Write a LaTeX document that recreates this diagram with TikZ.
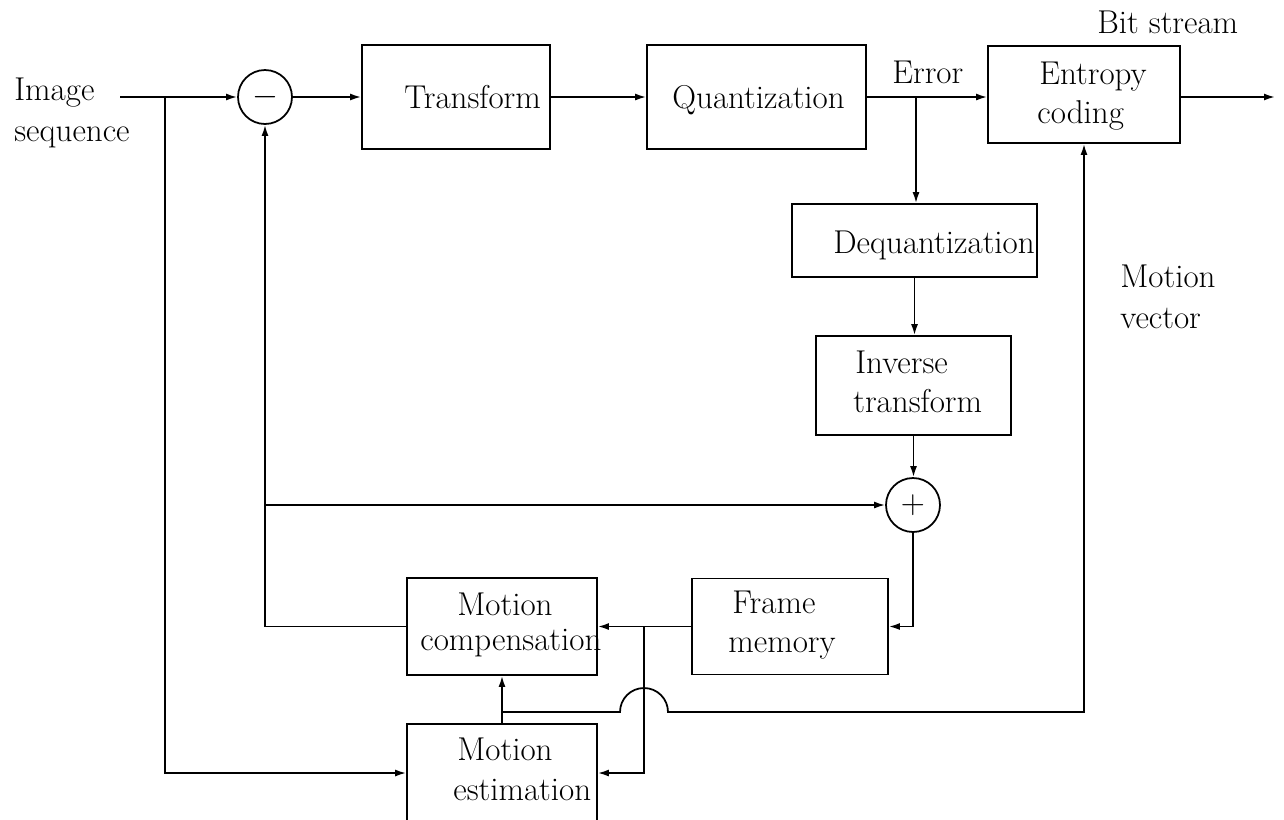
\documentclass[tikz,border=0pt]{standalone}
\usepackage{fix-cm}
\usetikzlibrary{arrows.meta}
\begin{document}
\begin{tikzpicture}[x=0.02cm,y=-0.02cm,
  box/.style={draw, line width=1pt, inner sep=0pt},
  sum/.style={draw, circle, line width=1pt, minimum size=1.08cm, inner sep=0pt, font=\fontsize{19pt}{23pt}\selectfont},
  lbl/.style={anchor=base west, inner sep=0pt, font=\fontsize{18.8pt}{23pt}\selectfont},
  ln/.style={line width=1pt},
  arr/.style={line width=1pt, -{Latex[length=0.22cm,width=0.14cm]}}]
\clip (0,0) rectangle (1284,819);
% blocks
\node[box, minimum width=3.76cm, minimum height=2.08cm] (trans) at (456,97) {};
\node[box, minimum width=4.38cm, minimum height=2.08cm] (quant) at (756.5,97) {};
\node[box, minimum width=3.84cm, minimum height=1.94cm] (entropy) at (1084,94.5) {};
\node[box, minimum width=4.9cm, minimum height=1.46cm] (dequant) at (914.5,240.5) {};
\node[box, minimum width=3.9cm, minimum height=1.98cm] (inverse) at (913.5,385.5) {};
\node[box, minimum width=3.92cm, minimum height=1.92cm] (frame) at (790,626.5) {};
\node[box, minimum width=3.8cm, minimum height=1.94cm] (mcomp) at (502,626.5) {};
\node[box, minimum width=3.8cm, minimum height=1.96cm] (mest) at (502,773) {};
\node[sum] (minus) at (265,97) {$-$};
\node[sum] (plus) at (913,505) {$+$};
% labels
\node[lbl] (limage) at (14,100) {Image};
\node[lbl] (lseq) at (14,141) {sequence};
\node[lbl] (ltrans) at (404,108) {Transform};
\node[lbl] (lquant) at (672,108) {Quantization};
\node[lbl] (lerror) at (892,83) {Error};
\node[lbl] (lbit) at (1097,33) {Bit stream};
\node[lbl] (lentropy) at (1039,84) {Entropy};
\node[lbl] (lcoding) at (1037,123) {coding};
\node[lbl] (ldequant) at (833,253) {Dequantization};
\node[lbl] (linverse) at (855,373) {Inverse};
\node[lbl] (ltransform) at (853,412) {transform};
\node[lbl] (lmv1) at (1120,287) {Motion};
\node[lbl] (lmv2) at (1120,328) {vector};
\node[lbl] (lframe) at (732,613) {Frame};
\node[lbl] (lmemory) at (728,652) {memory};
\node[lbl] (lmc1) at (457,615) {Motion};
\node[lbl] (lmc2) at (420,650) {compensation};
\node[lbl] (lme1) at (457,760) {Motion};
\node[lbl] (lme2) at (453,800) {estimation};
% helper coordinates
\coordinate (inp) at (120,97);
\coordinate (tap1) at (165,97);
\coordinate (etap) at (916,97);
\coordinate (out) at (1275,97);
\coordinate (lft) at (265,505);
\coordinate (br) at (644,626.5);
\coordinate (mv) at (502,712);
\coordinate (hopL) at (620,712);
% connectors
\draw[arr] (inp) -- (minus);
\draw[arr] (tap1) |- (mest.west);
\draw[arr] (minus) -- (trans);
\draw[arr] (trans) -- (quant);
\draw[arr] (quant.east) -- (quant.east -| entropy.west);
\draw[arr] (etap) -- (etap |- dequant.north);
\draw[arr] (out -| entropy.east) -- (out);
\draw[arr] (dequant.south) -- (dequant.south |- inverse.north);
\draw[arr] (inverse.south) -- (inverse.south |- plus.north);
\draw[arr] (plus.south) |- (frame.east);
\draw[arr] (frame.west) -- (mcomp.east);
\draw[arr] (br) |- (mest.east);
\draw[arr] (mcomp.west) -| (minus.south);
\draw[arr] (lft) -- (plus.west);
\draw[arr] (mest.north) -- (mcomp.south);
\draw[arr] (mv) -- (hopL) arc[start angle=180, end angle=0, radius=0.48cm] -- (entropy.south |- mv) -- (entropy.south);
\end{tikzpicture}
\end{document}
